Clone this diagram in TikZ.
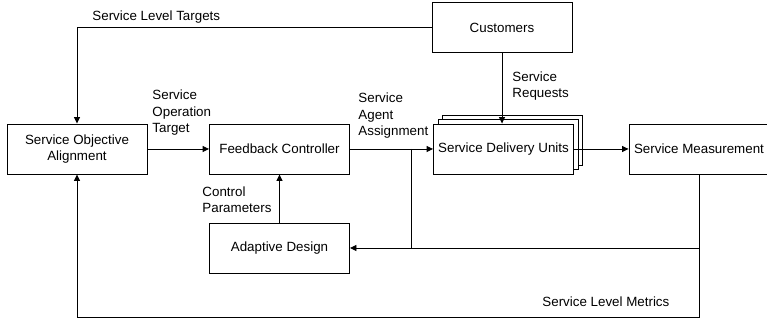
\documentclass[tikz,border=0pt]{standalone}
\usepackage{fontspec}
\setmainfont{Liberation Sans}
\usetikzlibrary{arrows.meta}
\begin{document}
\begin{tikzpicture}[>={Triangle[length=1.3mm,width=1.2mm]}, line width=0.5pt,
  font=\fontsize{7.6}{9.4}\selectfont,
  box/.style={draw, fill=white, align=center, minimum width=2.8cm, minimum height=1cm, inner sep=0pt},
  lbl/.style={inner sep=0pt, align=left, anchor=west}]
\useasboundingbox (0,0) rectangle (15.34,6.42);
\node[box] (soa) at (1.54,3.44) {Service Objective\\Alignment};
\node[box] (fc) at (5.59,3.44) {Feedback Controller};
\node[box] (ad) at (5.59,1.46) {Adaptive Design};
\node[box] (cust) at (10.04,5.87) {Customers};
\node[box] (sdu3) at (10.25,3.62) {};
\node[box] (sdu2) at (10.16,3.53) {};
\node[box] (sdu) at (10.07,3.44) {Service Delivery Units};
\node[box] (sm) at (13.98,3.44) {Service Measurement};
\coordinate (j) at (8.22,3.44);
\coordinate (b) at (13.98,0.08);

\draw[->] (cust.west) -| (soa.north);
\draw[->] (cust.south) -- (cust.south |- sdu.north);
\draw[->] (soa) -- (fc);
\draw[->] (fc) -- (sdu);
\draw[->] (sdu) -- (sm);
\draw[->] (ad) -- (fc);
\draw (j) -- (j |- ad.east);
\draw[->] (sm.south) |- (ad.east);
\draw[->] (sm.south) -- (b) -| (soa.south);

\node[lbl] (tgt) at (1.84,6.08) {Service Level Targets};
\node[lbl] (sot) at (3.04,4.16) {Service\\Operation\\Target};
\node[lbl] (saa) at (7.16,4.1) {Service\\Agent\\Assignment};
\node[lbl] (req) at (10.24,4.7) {Service\\Requests};
\node[lbl] (cp) at (4.04,2.43) {Control\\Parameters};
\node[lbl] (slm) at (10.84,0.38) {Service Level Metrics};
\end{tikzpicture}
\end{document}
